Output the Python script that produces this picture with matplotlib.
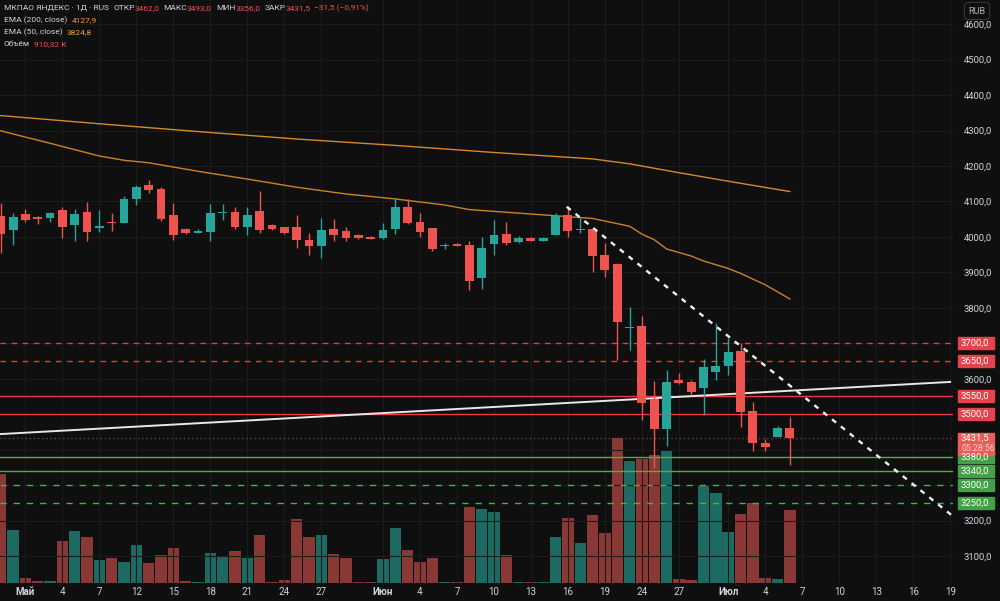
import matplotlib
matplotlib.use('Agg')
import matplotlib.pyplot as plt
from matplotlib.patches import Rectangle

plt.rcParams['font.family'] = ['Roboto', 'DejaVu Sans']

# daily candles, MKPAO Yandex
opens = [4059, 4020, 4064, 4056, 4053, 4076, 4034, 4070, 4026, 4041,
         4040, 4108, 4145, 4136, 4062, 4022, 4012, 4015, 4066, 4071,
         4029, 4073, 4034, 4027, 4029, 3992, 3973, 4023, 4016, 4006,
         3999, 3997, 4023, 4085, 4041, 4025, 3973, 3980, 3978, 3885,
         3979, 4008, 3985, 3996, 3989, 4005, 4061, 4020, 4022, 3949,
         3924, 3744, 3749, 3542, 3458, 3597, 3590, 3575, 3620, 3636,
         3678, 3509, 3420, 3437, 3462]
highs = [4096, 4067, 4079, 4060, 4069, 4084, 4078, 4098, 4076, 4066,
         4114, 4147, 4161, 4142, 4095, 4024, 4023, 4092, 4093, 4085,
         4085, 4130, 4037, 4028, 4062, 4010, 4054, 4051, 4027, 4008,
         4003, 4040, 4109, 4106, 4067, 4026, 3984, 3982, 3987, 4001,
         4048, 4043, 4003, 4000, 4000, 4067, 4087, 4057, 4024, 3982,
         3925, 3801, 3777, 3594, 3625, 3615, 3597, 3656, 3758, 3714,
         3702, 3535, 3429, 3468, 3493]
lows = [3955, 3977, 4042, 4037, 4042, 3998, 3989, 3987, 4015, 4017,
        4038, 4090, 4123, 4046, 3992, 4009, 4010, 3989, 4048, 4023,
        4004, 4010, 4020, 4008, 3970, 3949, 3940, 3989, 3989, 3995,
        3994, 3995, 4008, 4036, 4001, 3961, 3967, 3973, 3850, 3853,
        3949, 3977, 3984, 3987, 3988, 4004, 4001, 4010, 3902, 3888,
        3653, 3681, 3484, 3348, 3410, 3585, 3554, 3498, 3597, 3611,
        3465, 3397, 3397, 3435, 3356]
closes = [4008, 4056, 4048, 4051, 4068, 4029, 4064, 4015, 4031, 4038,
          4108, 4142, 4133, 4050, 4004, 4011, 4018, 4067, 4071, 4027,
          4062, 4020, 4022, 4010, 3990, 3973, 4020, 4006, 3998, 3997,
          3995, 4020, 4084, 4039, 4015, 3965, 3977, 3974, 3876, 3969,
          4006, 3982, 3996, 3989, 3998, 4059, 4016, 4023, 3947, 3907,
          3761, 3747, 3531, 3458, 3592, 3587, 3564, 3632, 3637, 3675,
          3507, 3418, 3408, 3460, 3431.5]
# volume, thousands
volumes = [1360, 660, 62, 25, 25, 524, 648, 574, 287, 312,
           262, 474, 249, 349, 436, 25, 12, 374, 324, 399,
           312, 599, 12, 37, 798, 574, 599, 362, 312, 12,
           12, 299, 686, 412, 262, 312, 12, 12, 948, 923,
           885, 349, 12, 12, 12, 574, 811, 499, 848, 624,
           1808, 1521, 1546, 1596, 1646, 50, 37, 1210, 1122, 636,
           860, 998, 62, 50, 910.32]

ema200_idx = [0, 8, 16, 24, 32, 40, 44, 48, 51, 55, 59, 64]
ema200_val = [4342, 4319, 4297, 4276, 4258, 4238, 4229, 4220, 4206, 4181, 4157, 4127.9]
ema50_idx = [0, 4, 8, 10, 12, 16, 20, 24, 28, 32, 36, 38, 44, 48, 51, 52, 53,
             54, 56, 57, 59, 60, 62, 63, 64]
ema50_val = [4299, 4264, 4228, 4216, 4209, 4185, 4163, 4140, 4121, 4107, 4090,
             4077, 4062, 4052, 4030, 4008, 3992, 3966, 3946, 3932, 3911, 3897,
             3865, 3845, 3824.8]

resist_dashed = [3700, 3650]
resist_solid = [3550, 3500]
support_solid = [3380, 3340]
support_dashed = [3300, 3250]
last_price = 3431.5

up_trend_x = [0, 77]
up_trend_y = [3444, 3591]
down_trend_x = [45.9, 77.2]
down_trend_y = [4085, 3213]

tick_pos = [2, 5, 8, 11, 14, 17, 20, 23, 26, 31, 34, 37, 40, 43, 46, 49, 52, 55,
            59, 62, 65, 68, 71, 74, 77]
tick_lab = ['Май', '4', '7', '12', '15', '18', '21', '24', '27', 'Июн', '4', '7',
            '10', '13', '16', '19', '24', '27', 'Июл', '4', '7', '10', '13', '16', '19']
price_ticks = [3100, 3200, 3600, 3800, 3900, 4000, 4100, 4200, 4300, 4400, 4500, 4600]

BG = '#0f0f0f'
GRID = '#1c1c1c'
UP, DOWN = '#26a69a', '#ef5350'
VUP, VDOWN = '#1d6a63', '#8a3835'
RED_LVL, GREEN_LVL = '#f23645', '#4caf50'
TXT = '#d1d4dc'

fig = plt.figure(figsize=(10, 6.01), dpi=100, facecolor=BG)
rect = [0, 18 / 601, 0.953, 583 / 601]
ax_v = fig.add_axes(rect, facecolor=BG)
ax = fig.add_axes(rect, facecolor='none')

n = len(closes)
xs = list(range(n))
xlim = (-0.06, 77.23)

# volume
vcol = [VUP if c >= o else VDOWN for o, c in zip(opens, closes)]
ax_v.bar(xs, volumes, width=0.93, color=vcol)
ax_v.set_xlim(*xlim)
ax_v.set_ylim(0, 7270)
ax_v.axis('off')

# grid
for p in range(3100, 4700, 100):
    ax.axhline(p, color=GRID, lw=0.8, zorder=0)
for t in tick_pos:
    ax.axvline(t, color=GRID, lw=0.8, zorder=0)

# levels
for lv in resist_dashed:
    ax.axhline(lv, color=RED_LVL, lw=1, ls=(0, (4, 4)), zorder=2)
for lv in resist_solid:
    ax.axhline(lv, color=RED_LVL, lw=1, zorder=2)
for lv in support_solid:
    ax.axhline(lv, color=GREEN_LVL, lw=1, zorder=2)
for lv in support_dashed:
    ax.axhline(lv, color=GREEN_LVL, lw=1, ls=(0, (4.5, 5)), zorder=2)
ax.axhline(last_price, color='#7a4040', lw=1, ls=(0, (1, 2)), zorder=2)

# trend lines
ax.plot(up_trend_x, up_trend_y, color='#e8e8e8', lw=1.4, zorder=2)
ax.plot(down_trend_x, down_trend_y, color='#f0f0f0', lw=1.7, ls=(0, (2.2, 2.6)),
        zorder=4, clip_on=False)

# EMA
ax.plot(ema200_idx, ema200_val, color='#d48a2c', lw=1, zorder=2)
ax.plot(ema50_idx, ema50_val, color='#c9822a', lw=1, zorder=2)

# candles
for i in xs:
    o, h, l, c = opens[i], highs[i], lows[i], closes[i]
    col = UP if c >= o else DOWN
    ax.vlines(i, l, h, color=col, lw=1, zorder=3)
    ax.bar(i, max(abs(c - o), 2.8), bottom=min(o, c), width=0.72, color=col, zorder=3)

ax.set_xlim(*xlim)
ax.set_ylim(3024, 4668)
for s in ax.spines.values():
    s.set_visible(False)
ax.yaxis.tick_right()
ax.set_yticks(price_ticks)
ax.set_yticklabels([f'{p},0' for p in price_ticks])
ax.tick_params(axis='y', length=0, pad=7.5, labelsize=6.8, labelcolor=TXT)
ax.set_xticks(tick_pos)
ax.set_xticklabels(tick_lab)
ax.tick_params(axis='x', length=0, pad=3, labelsize=7, labelcolor=TXT)
for lab in ax.get_xticklabels():
    if not lab.get_text().isdigit():
        lab.set_fontweight('bold')


def level_box(price, text, color, sub=None):
    py = ax.transData.transform((0, price))[1]
    if sub is None:
        top, bottom = py + 6, py - 6
    else:
        top, bottom = py + 5.5, py - 17
    fig.patches.append(Rectangle((958 / 1000, bottom / 601), 36 / 1000, (top - bottom) / 601,
                                 transform=fig.transFigure, color=color, zorder=5))
    fig.text(961 / 1000, py / 601, text, color='white', fontsize=6.8, va='center', zorder=6)
    if sub:
        fig.text(961 / 1000, (py - 10.5) / 601, sub, color='#fbd2d2', fontsize=6.3,
                 va='center', zorder=6)


for lv in resist_dashed + resist_solid:
    level_box(lv, f'{lv},0', '#e4434b')
for lv in support_solid + support_dashed:
    level_box(lv, f'{lv},0', '#43a047')
level_box(last_price, '3431,5', '#ee5a57', sub='05:28:56')

fig.text(977 / 1000, 1 - 11 / 601, 'RUB', color='#b2b5be', fontsize=6.5, ha='center', va='center',
         bbox=dict(boxstyle='round,pad=0.45', fc=BG, ec='#363636', lw=0.8))

# legend rows
renderer = fig.canvas.get_renderer()


def row(y, parts):
    x = 4
    for s, c, gap in parts:
        t = fig.text(x / 1000, 1 - y / 601, s, color=c, fontsize=6.0, va='center')
        x += t.get_window_extent(renderer=renderer).width + gap


VAL = '#f05350'
row(8, [('МКПАО ЯНДЕКС · 1Д · RUS', TXT, 4), ('ОТКР', TXT, 0), ('3462,0', VAL, 4),
        ('МАКС', TXT, 0), ('3493,0', VAL, 4), ('МИН', TXT, 0), ('3356,0', VAL, 4),
        ('ЗАКР', TXT, 0), ('3431,5', VAL, 3), ('−31,5 (−0,91%)', VAL, 0)])
row(20, [('EMA (200, close)', TXT, 4), ('4127,9', '#f0a030', 0)])
row(32, [('EMA (50, close)', TXT, 4), ('3824,8', '#f0a030', 0)])
row(44, [('Объём', TXT, 4), ('910,32 K', VAL, 0)])

plt.savefig('out.png', dpi=100, facecolor=BG)
